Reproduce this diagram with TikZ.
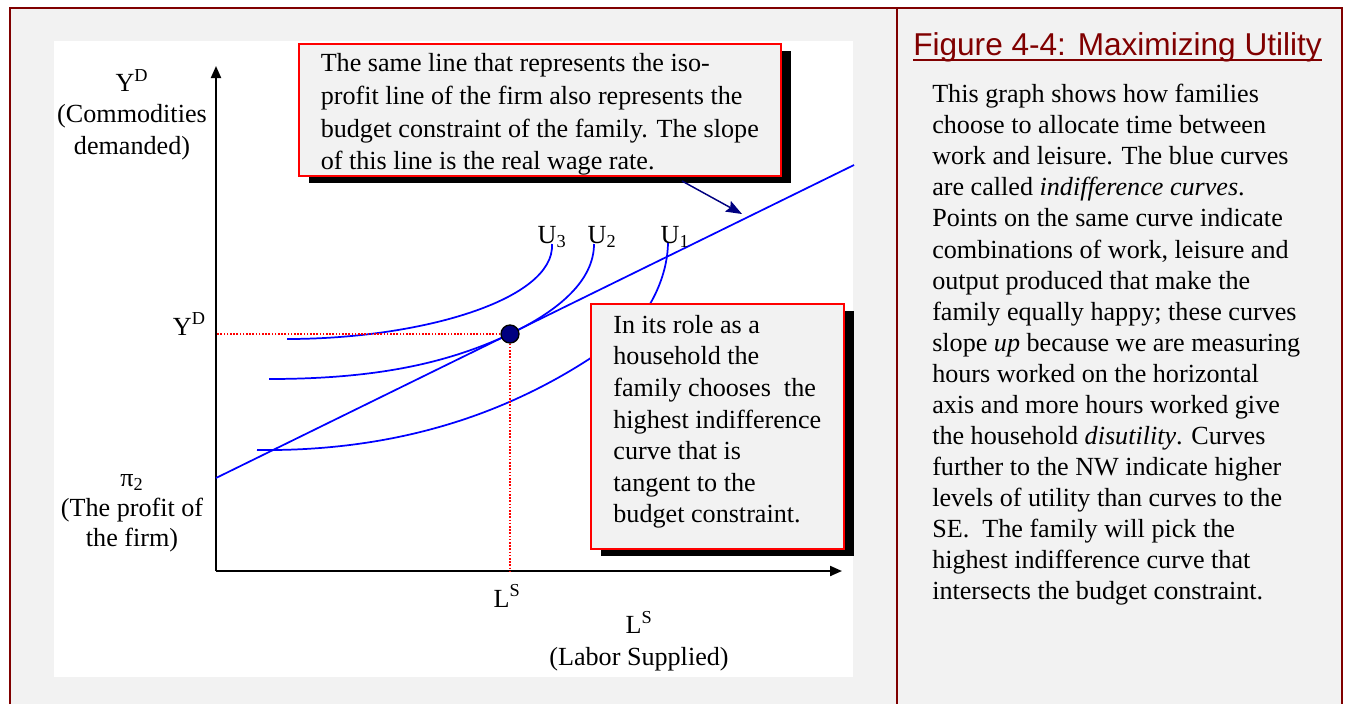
\documentclass[tikz,border=0pt]{standalone}
\usepackage{fontspec}
\setmainfont{Liberation Serif}
\newfontfamily\titlefont{Liberation Sans}
\usepackage{xcolor}
\usetikzlibrary{arrows.meta, positioning, calc, shadows}
\definecolor{frameRed}{RGB}{128,0,0}
\definecolor{boxGray}{RGB}{242,242,242}
\definecolor{curveBlue}{RGB}{0,0,255}
\definecolor{pointNavy}{RGB}{0,0,128}

\begin{document}
\begin{tikzpicture}[x=0.75pt, y=-0.75pt,
    txt/.style={font=\fontsize{19.6}{23.7}\selectfont, inner sep=0pt},
    note/.style={txt, rectangle, draw=red, line width=1.2pt, fill=boxGray, align=left,
        drop shadow={shadow xshift=7.5pt, shadow yshift=-5.25pt, fill=black, opacity=1}},
    axis/.style={line width=1.5pt, -{Triangle[length=9pt, width=7.5pt]}},
    budget/.style={curveBlue, line width=1.3pt},
    indiff/.style={curveBlue, line width=1.3pt},
    guide/.style={red, line width=1.1pt, dash pattern=on 1.2pt off 1.2pt},
    pointer/.style={pointNavy, line width=1.1pt, -{Stealth[length=12pt, width=9pt, inset=2pt]}},
    dot/.style={circle, draw=black, line width=1pt, fill=pointNavy, minimum size=13.5pt, inner sep=0pt}
]
\useasboundingbox (0,0) rectangle (1346,704);
% page and frame
\fill[white] (0,0) rectangle (1346,704);
\fill[boxGray] (10,8) rectangle (1342,704);
\fill[white] (54,41) rectangle (853,677);
\draw[frameRed, line width=1.6pt] (10,704) -- (10,8) -- (1342,8) -- (1342,704);
\draw[frameRed, line width=1.6pt] (897,8) -- (897,704);

% axes
\coordinate (o) at (216,571);
\draw[axis] (o) -- (216,66);
\draw[axis] (o) -- (842,571);
\node[txt, align=center, anchor=north] (ylab) at (132,69)
    {Y\textsuperscript{D}\\(Commodities\\demanded)};
\node[txt, align=center, anchor=north, font=\fontsize{19.6}{22.5}\selectfont] (pilab) at (132,474)
    {π\textsubscript{2}\\(The profit of\\the firm)};
\node[txt, align=center, anchor=north] (xlab) at (639,611)
    {L\textsuperscript{S}\\(Labor Supplied)};

% budget line and indifference curves
\coordinate (tangency) at (510,334);
\draw[budget] (216,478) -- (854,165);
\draw[indiff] (287,339) .. controls (420,339) and (555,300) .. (552,244);
\draw[indiff] (269,379) .. controls (380,379) and (450,362) .. (tangency)
    .. controls (560,310) and (594,280) .. (594,244);
\draw[indiff] (257,450) .. controls (420,452) and (540,400) .. (630,330)
    .. controls (655,305) and (668,270) .. (668,242);
\node[txt, anchor=base] (u3) at (552,243) {U\textsubscript{3}};
\node[txt, anchor=base] (u2) at (602,243) {U\textsubscript{2}};
\node[txt, anchor=base] (u1) at (675,243) {U\textsubscript{1}};

% optimum
\draw[guide] (tangency) -- (tangency -| o);
\draw[guide] (tangency) -- (tangency |- o);
\node[dot] (opt) at (tangency) {};
\node[txt, anchor=base east] (ydtick) at (206,335) {Y\textsuperscript{D}};
\node[txt, anchor=base] (lstick) at (507,607) {L\textsuperscript{S}};

% callouts
\node[note, anchor=north west, minimum width=361.5pt, minimum height=99pt,
    font=\fontsize{19.6}{24.5}\selectfont, text depth=0pt] (slopenote) at (298,43)
    {\rule{0pt}{16.5pt}The same line that represents the iso-\\
     profit line of the firm also represents the\\
     budget constraint of the family. The slope\\
     of this line is the real wage rate.};
\node[note, anchor=north west, minimum width=189.75pt, minimum height=183.75pt,
    text depth=11pt] (choicenote) at (590,303)
    {In its role as a\\
     household the\\
     family chooses\ \ the\\
     highest indifference\\
     curve that is\\
     tangent to the\\
     budget constraint.};
\coordinate (callout) at (682,181);
\coordinate (slopept) at (742,214);
\draw[pointer] (callout) -- (slopept);

% caption panel
\node[anchor=base west, inner sep=0pt, font=\titlefont\fontsize{23.7}{28}\selectfont, text=frameRed] (title) at (913,55)
    {Figure 4-4: Maximizing Utility};
\draw[frameRed, line width=1.5pt] ($(title.base west)+(0,5)$) -- ($(title.base east)+(0,5)$);
\node[txt, anchor=north west, align=left, font=\fontsize{19.6}{23.3}\selectfont] (caption) at (932,84)
    {This graph shows how families\\
     choose to allocate time between\\
     work and leisure. The blue curves\\
     are called \textit{indifference curves}.\\
     Points on the same curve indicate\\
     combinations of work, leisure and\\
     output produced that make the\\
     family equally happy; these curves\\
     slope \textit{up} because we are measuring\\
     hours worked on the horizontal\\
     axis and more hours worked give\\
     the household \textit{disutility}. Curves\\
     further to the NW indicate higher\\
     levels of utility than curves to the\\
     SE.\ \ The family will pick the\\
     highest indifference curve that\\
     intersects the budget constraint.};
\end{tikzpicture}
\end{document}
